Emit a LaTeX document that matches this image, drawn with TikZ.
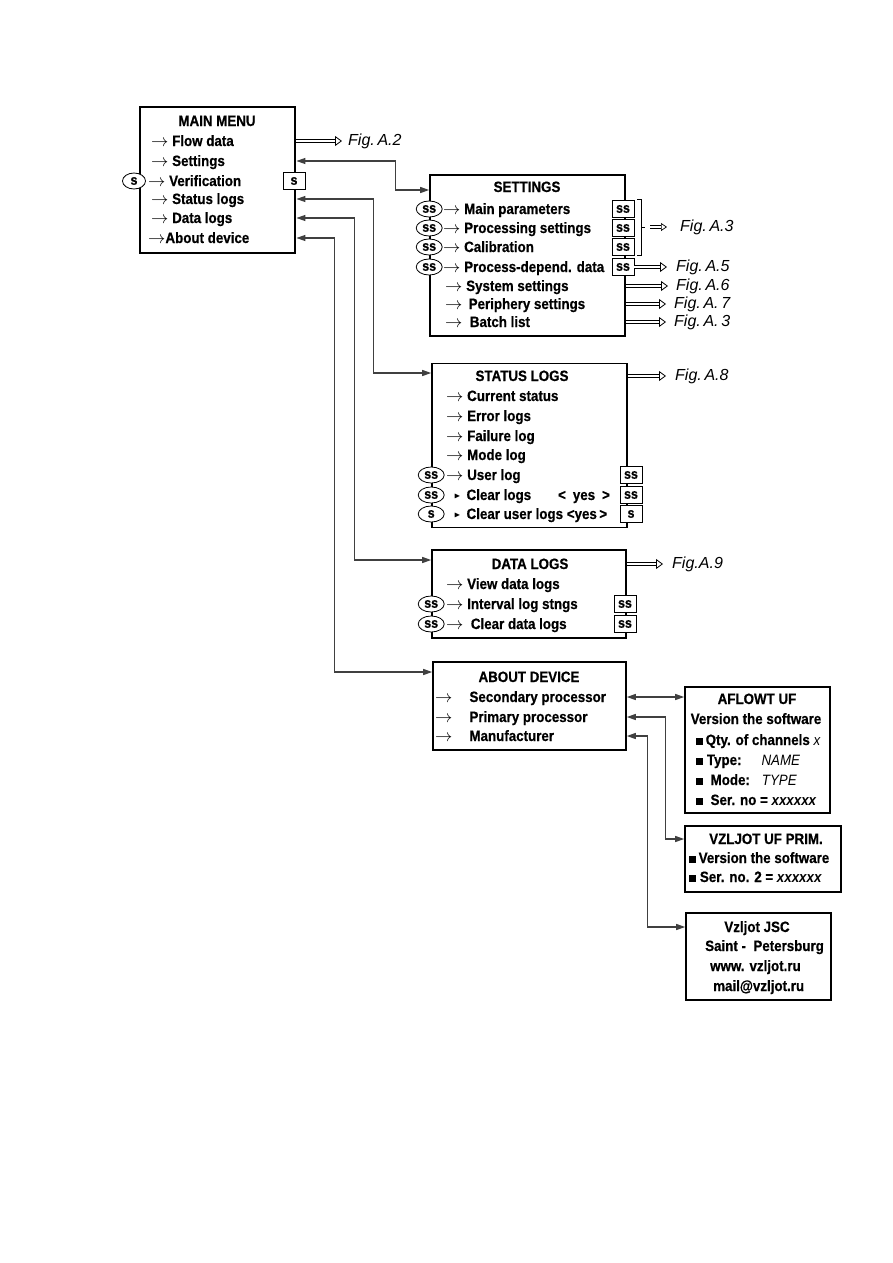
\documentclass[tikz,border=0pt]{standalone}
\usepackage{amssymb}
\usepackage{fontspec}
\setmainfont{Liberation Sans}[FakeStretch=0.89,BoldFeatures={FakeBold=0.6}]
\newfontfamily\figfont{Liberation Sans}
\usetikzlibrary{arrows.meta,positioning,shapes.geometric}
\colorlet{lnk}{black!75}
\newcommand\trg{\raisebox{1.5pt}{\scalebox{0.55}{$\blacktriangleright$}}}
\newcommand\blt{\raisebox{0.5pt}{\rule{7pt}{7pt}}}
\newcommand\ar{{\fontsize{17}{17}\selectfont$\rightarrow$}}

\begin{document}
\begin{tikzpicture}[x=1pt,y=-1pt,font=\fontsize{15}{17}\selectfont\bfseries]
    \tikzstyle{box}=[draw,line width=1.6pt,inner sep=0pt]
    \tikzstyle{row}=[anchor=west,inner sep=0pt,text height=12pt,text depth=2pt]
    \tikzstyle{ttl}=[inner sep=0pt,text height=12pt,text depth=2pt]
    \tikzstyle{ov}=[draw,ellipse,fill=white,line width=0.8pt,inner sep=0pt,minimum width=26pt,minimum height=16pt,font=\fontsize{14}{14}\selectfont\bfseries]
    \tikzstyle{ky}=[draw,fill=white,line width=0.8pt,inner sep=0pt,minimum width=22pt,minimum height=17pt,font=\fontsize{14}{14}\selectfont\bfseries]
    \tikzstyle{fg}=[anchor=west,inner sep=0pt,font=\figfont\fontsize{16}{18}\selectfont\mdseries\itshape]
    \tikzstyle{dbl}=[draw,double,double distance=2.6pt,line width=0.7pt,-{Triangle[open,fill=white,length=7pt,width=10pt,line width=0.8pt]}]
    \tikzstyle{cn}=[draw=lnk,line width=1.2pt,{Triangle[length=9pt,width=6pt]}-{Triangle[length=9pt,width=6pt]}]
    \useasboundingbox (0,0) rectangle (893,1263);

    % main menu
    \node[box,line width=2.8pt,minimum width=155pt,minimum height=146pt] (mm) at (217.5,180) {};
    \node[ttl] (mmt) at (217,121) {MAIN MENU};
    \node[row] (mflow) at (151,141) {\ar\ Flow data};
    \node[row] (mset) at (151,161) {\ar\ Settings};
    \node[row] (mver) at (148,181) {\ar\ Verification};
    \node[row] (mstat) at (151,199) {\ar\ Status logs};
    \node[row] (mdata) at (151,218) {\ar\ Data logs};
    \node[row] (mabout) at (148,238) {\ar About device};
    \node[ov,minimum width=23pt] (mvo) at (134,181) {s};
    \node[ky] (mvk) at (294,181) {s};
    \node[fg] (fa2) at (348,0 |- mflow) {Fig.\,A.2};
    \draw[dbl] (mm.east |- mflow) -- ([xshift=-6pt]fa2.west);

    % settings
    \node[box,minimum width=195pt,minimum height=161pt] (st) at (527.5,255.5) {};
    \node[ttl] (stt) at (527,187) {SETTINGS};
    \node[row] (s1) at (443,209) {\ar\ Main parameters};
    \node[row] (s2) at (443,228) {\ar\ Processing settings};
    \node[row] (s3) at (443,247) {\ar\ Calibration};
    \node[row] (s4) at (443,267) {\ar\ Process-depend. data};
    \node[row] (s5) at (445,286) {\ar\ System settings};
    \node[row] (s6) at (445,304) {\ar\ \,Periphery settings};
    \node[row] (s7) at (445,322) {\ar\ \ Batch list};
    \foreach \r in {s1,s2,s3,s4} {
      \node[ov] (o\r) at (st.west |- \r) {ss};
      \node[ky] (k\r) at (623,0 |- \r) {ss};
    }
    \draw[line width=0.8pt] (637,199) -- (641,199) -- (641,255) -- (637,255)
                            (641,227) -- (645,227);
    \coordinate (brk) at (650,227);
    \node[fg] (fa3a) at (680,227) {Fig.\,A.3};
    \node[fg] (fa5) at (676,0 |- s4) {Fig.\,A.5};
    \node[fg] (fa6) at (676,0 |- s5) {Fig.\,A.6};
    \node[fg] (fa7) at (674,0 |- s6) {Fig.\,A.\,7};
    \node[fg] (fa3b) at (674,0 |- s7) {Fig.\,A.\,3};
    \draw[dbl,double distance=2pt,line width=0.6pt,-{Triangle[open,fill=white,length=6pt,width=8pt,line width=0.7pt]}] (brk) -- ([xshift=-13pt]fa3a.west);
    \draw[dbl] (ks4.east) -- ([xshift=-9pt]fa5.west);
    \foreach \r/\f in {s5/fa6,s6/fa7,s7/fa3b}
      \draw[dbl] (st.east |- \r) -- ([xshift=-8pt]\f.west);

    % status logs
    \node[box,minimum width=195pt,minimum height=164pt] (sl) at (529.5,445.5) {};
    \node[ttl] (slt) at (522,376) {STATUS LOGS};
    \node[row] (l1) at (446,396) {\ar\ Current status};
    \node[row] (l2) at (446,416) {\ar\ Error logs};
    \node[row] (l3) at (446,436) {\ar\ Failure log};
    \node[row] (l4) at (446,455) {\ar\ Mode log};
    \node[row] (l5) at (446,475) {\ar\ User log};
    \node[row] (l6) at (454,495) {\trg\hspace{6pt}Clear logs};
    \node[row] (l7) at (454,514) {\trg\hspace{6pt}Clear user logs {<}yes\,{>}};
    \node[ttl] (l6y) at (584,495) {{<}\hspace{7pt}yes\hspace{7pt}{>}};
    \foreach \r/\t in {l5/ss,l6/ss,l7/s} {
      \node[ov] (o\r) at (sl.west |- \r) {\t};
      \node[ky] (k\r) at (631,0 |- \r) {\t};
    }
    \node[fg] (fa8) at (675,0 |- slt) {Fig.\,A.8};
    \draw[dbl] (sl.east |- slt) -- ([xshift=-9pt]fa8.west);

    % data logs
    \node[box,minimum width=194pt,minimum height=88pt] (dl) at (529,594) {};
    \node[ttl] (dlt) at (530,564) {DATA LOGS};
    \node[row] (d1) at (446,584) {\ar\ View data logs};
    \node[row] (d2) at (446,604) {\ar\ Interval log stngs};
    \node[row] (d3) at (446,624) {\ar\ \ Clear data logs};
    \foreach \r in {d2,d3} {
      \node[ov] (o\r) at (dl.west |- \r) {ss};
      \node[ky] (k\r) at (625,0 |- \r) {ss};
    }
    \node[fg] (fa9) at (672,0 |- dlt) {Fig.A.9};
    \draw[dbl] (dl.east |- dlt) -- ([xshift=-9pt]fa9.west);

    % about device
    \node[box,minimum width=193pt,minimum height=88pt] (ad) at (529.5,706) {};
    \node[ttl] (adt) at (529,677) {ABOUT DEVICE};
    \node[row] (a1) at (435,697) {\ar\hspace{17pt}Secondary processor};
    \node[row] (a2) at (435,717) {\ar\hspace{17pt}Primary processor};
    \node[row] (a3) at (435,736) {\ar\hspace{17pt}Manufacturer};

    % info boxes
    \node[box,minimum width=145pt,minimum height=126pt] (af) at (757.5,750) {};
    \node[ttl] (aft) at (757,699) {AFLOWT UF};
    \node[ttl] (afv) at (756,719) {Version the software};
    \node[row] (af1) at (696,740) {\blt\,Qty. of channels {\mdseries\itshape x}};
    \node[row] (af2) at (696,760) {\blt\ Type:\hspace{20pt}{\mdseries\itshape NAME}};
    \node[row] (af3) at (696,780) {\blt\ \ Mode:\hspace{12pt}{\mdseries\itshape TYPE}};
    \node[row] (af4) at (696,800) {\blt\ \ Ser. no = {\itshape xxxxxx}};

    \node[box,minimum width=156pt,minimum height=66pt] (vp) at (763,859) {};
    \node[ttl] (vpt) at (766,839) {VZLJOT UF PRIM.};
    \node[row] (vp1) at (689,858) {\blt\,Version the software};
    \node[row] (vp2) at (689,877) {\blt\ Ser. no. 2 = {\itshape xxxxxx}};

    \node[box,minimum width=145pt,minimum height=87pt] (vj) at (758.5,956.5) {};
    \node[ttl] (vjt) at (757,927) {Vzljot JSC};
    \node[row] (vj1) at (705,946) {Saint - \ Petersburg};
    \node[row] (vj2) at (710,966) {www. vzljot.ru};
    \node[row] (vj3) at (713,986) {mail@vzljot.ru};

    % connectors
    \draw[cn] (mm.east |- mset) -- ++(99,0) |- (st.west |- 0,190);
    \draw[cn] (mm.east |- mstat) -- ++(77,0) |- (sl.west |- 0,373);
    \draw[cn] (mm.east |- mdata) -- ++(58,0) |- (dl.west |- 0,560);
    \draw[cn] (mm.east |- mabout) -- ++(38,0) |- (ad.west |- 0,672);
    \draw[cn] (ad.east |- a1) -- (af.west |- a1);
    \draw[cn] (ad.east |- a2) -- ++(39,0) |- (vp.west |- vpt);
    \draw[cn] (ad.east |- a3) -- ++(21,0) |- (vj.west |- vjt);
\end{tikzpicture}
\end{document}
